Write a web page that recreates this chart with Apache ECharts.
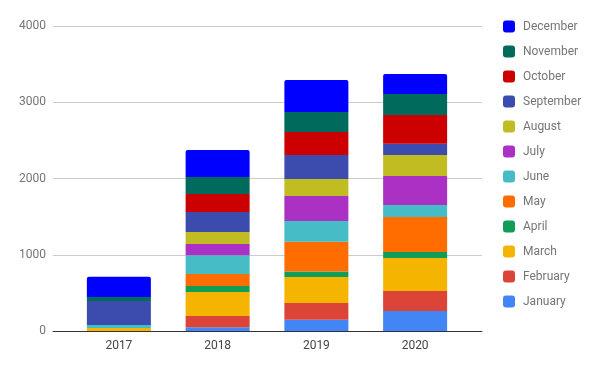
<!DOCTYPE html>
<html><head><meta charset="utf-8">
<script src="https://cdn.jsdelivr.net/npm/echarts@6/dist/echarts.min.js"></script>
<style>html,body{margin:0;padding:0;background:#fff}#c{width:600px;height:371px}</style>
</head><body><div id="c"></div>
<script>
var years = ['2017', '2018', '2019', '2020'];
var months = ['January','February','March','April','May','June','July','August','September','October','November','December'];
var colors = ['#4285F4','#DB4437','#F4B400','#0F9D58','#FF6D01','#46BDC6','#AB30C4','#C1BC22','#3C4BAE','#CC0000','#006B5D','#0000FF'];
var January   = [0, 49, 149, 262];
var February  = [0, 148, 219, 262];
var March     = [39, 315, 341, 433];
var April     = [0, 79, 70, 79];
var May       = [0, 157, 393, 459];
var June      = [39, 245, 271, 157];
var July      = [0, 148, 328, 380];
var August    = [0, 157, 223, 275];
var September = [315, 262, 315, 149];
var October   = [0, 236, 302, 376];
var November  = [52, 223, 262, 275];
var December  = [266, 354, 420, 262];
var yTicks = [0, 1000, 2000, 3000, 4000];

var values = [January, February, March, April, May, June, July, August, September, October, November, December];
var font = 'Roboto, "Noto Sans", sans-serif';
var series = months.map(function (m, i) {
  return {
    name: m, type: 'bar', stack: 'total', xAxisIndex: 1, yAxisIndex: 1,
    barWidth: 64, data: values[i],
    itemStyle: { color: colors[i], borderRadius: i === 11 ? [2, 2, 0, 0] : 0 },
    emphasis: { disabled: true }
  };
});
var chart = echarts.init(document.getElementById('c'), null, { renderer: 'canvas' });
chart.setOption({
  animation: false,
  color: colors,
  textStyle: { fontFamily: font },
  grid: [
    { left: 53, right: 118, top: 26, bottom: 40 },
    { left: 69.5, right: 135.5, top: 26, bottom: 40 }
  ],
  legend: {
    orient: 'vertical', left: 503, top: 20.5, padding: 0,
    itemWidth: 12, itemHeight: 12, itemGap: 13,
    icon: 'roundRect',
    data: months.slice().reverse(),
    textStyle: { color: '#757575', fontSize: 12, fontFamily: font, padding: [0, 0, 0, 3] },
    selectedMode: false
  },
  xAxis: [
    { gridIndex: 0, type: 'category', data: [''], z: 10,
      axisLine: { show: true, lineStyle: { color: '#333', width: 1 } },
      axisTick: { show: false }, axisLabel: { show: false }, splitLine: { show: false } },
    { gridIndex: 1, type: 'category', data: years,
      axisLine: { show: false }, axisTick: { show: false },
      axisLabel: { color: '#444', fontSize: 12, margin: 9, fontFamily: font } }
  ],
  yAxis: [
    { gridIndex: 0, type: 'value', min: 0, max: 4000, interval: 1000,
      axisLine: { show: false }, axisTick: { show: false },
      axisLabel: { color: '#757575', fontSize: 12, margin: 7, fontFamily: font,
        formatter: function (v) { return yTicks.indexOf(v) >= 0 ? String(v) : ''; } },
      splitLine: { lineStyle: { color: '#cccccc', width: 1 } } },
    { gridIndex: 1, type: 'value', min: 0, max: 4000, interval: 1000, show: false,
      splitLine: { show: false } }
  ],
  series: series
});
</script></body></html>
